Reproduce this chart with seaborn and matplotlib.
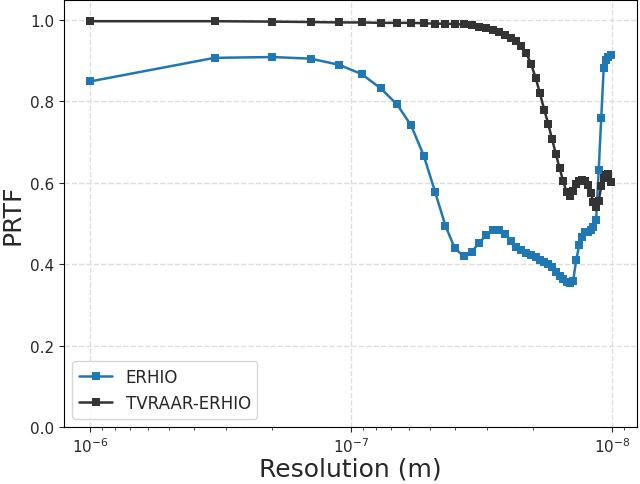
import matplotlib
matplotlib.use("Agg")
import matplotlib.pyplot as plt
import seaborn as sns
import numpy as np

# Resolution = 1 µm / k  (k odd, 1..99)
k = [1, 3, 5, 7, 9, 11, 13, 15, 17, 19, 21, 23, 25, 27, 29, 31, 33, 35, 37, 39,
     41, 43, 45, 47, 49, 51, 53, 55, 57, 59, 61, 63, 65, 67, 69, 71, 73, 75, 77, 79,
     81, 83, 85, 87, 89, 91, 93, 95, 97, 99]
resolution = 1e-6 / np.array(k, dtype=float)

erhio = [0.849, 0.907, 0.909, 0.905, 0.890, 0.867, 0.832, 0.793, 0.741, 0.667,
         0.578, 0.495, 0.439, 0.420, 0.430, 0.453, 0.471, 0.483, 0.484, 0.475,
         0.457, 0.443, 0.434, 0.428, 0.422, 0.417, 0.411, 0.406, 0.401, 0.392,
         0.382, 0.371, 0.363, 0.357, 0.354, 0.358, 0.411, 0.447, 0.468, 0.478,
         0.480, 0.483, 0.492, 0.509, 0.631, 0.758, 0.881, 0.901, 0.910, 0.915]

tvraar = [0.997, 0.997, 0.996, 0.995, 0.994, 0.994, 0.993, 0.993, 0.993, 0.992,
          0.991, 0.991, 0.990, 0.989, 0.987, 0.984, 0.980, 0.976, 0.970, 0.964,
          0.956, 0.948, 0.936, 0.918, 0.892, 0.858, 0.820, 0.780, 0.745, 0.707,
          0.670, 0.637, 0.604, 0.578, 0.568, 0.580, 0.596, 0.604, 0.607, 0.605,
          0.594, 0.574, 0.553, 0.540, 0.555, 0.592, 0.613, 0.620, 0.621, 0.603]

sns.set_style("ticks")
plt.rcParams['font.family'] = ['DejaVu Sans']

fig, ax = plt.subplots(figsize=(6.4, 4.85), dpi=100)

sns.lineplot(x=resolution, y=erhio, ax=ax, color='#1f77b4', marker='s',
             markersize=6, markeredgewidth=0, linewidth=1.8, label='ERHIO')
sns.lineplot(x=resolution, y=tvraar, ax=ax, color='#333333', marker='s',
             markersize=6, markeredgewidth=0, linewidth=1.8, label='TVRAAR-ERHIO')

ax.set_xscale('log')
ax.invert_xaxis()
ax.set_ylim(0, 1.048)
ax.set_yticks([0.0, 0.2, 0.4, 0.6, 0.8, 1.0])

ax.grid(True, which='major', linestyle='--', color='#dddddd', linewidth=1)
for s in ax.spines.values():
    s.set_visible(True)
    s.set_color('black')

ax.tick_params(axis='both', which='major', labelsize=11)
ax.set_xlabel('Resolution (m)', fontsize=18, labelpad=1)
ax.set_ylabel('PRTF', fontsize=18)

ax.legend(loc='lower left', fontsize=12)

plt.subplots_adjust(left=0.1, right=0.995, top=0.997, bottom=0.1175)
plt.savefig('out.png', dpi=100)
